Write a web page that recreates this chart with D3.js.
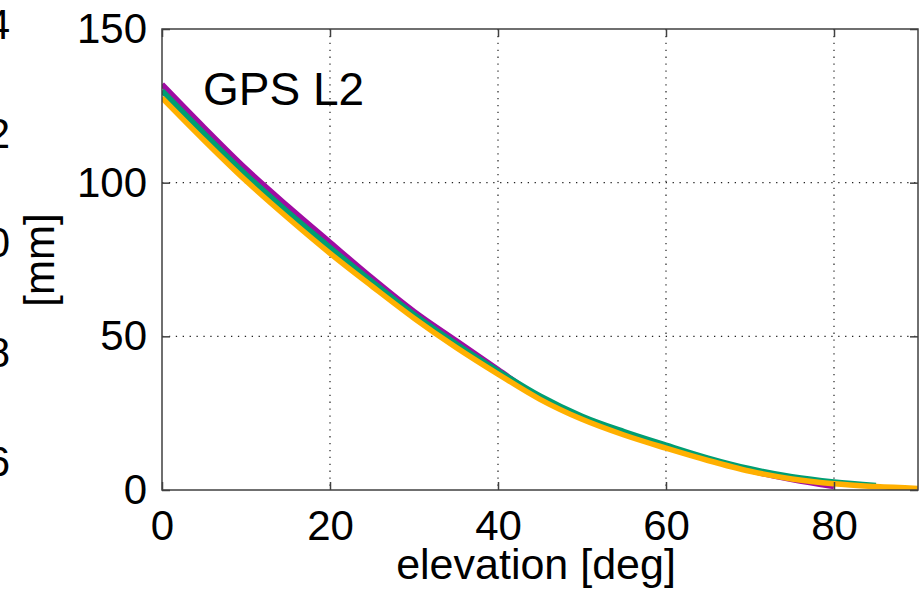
<!DOCTYPE html>
<html lang="en">
<head>
<meta charset="utf-8">
<title>GPS L2</title>
<script src="https://d3js.org/d3.v7.min.js"></script>
<style>
body { margin: 0; background: #fff; }
text { font-family: "Liberation Sans", Arial, sans-serif; fill: #000; }
</style>
</head>
<body>
<div id="container"></div>
<script>
// data
const elevation = [0, 5, 10, 15, 20, 25, 30, 35, 40, 45, 50, 55, 60, 65, 70, 75, 80, 85, 90];
const purple = [132.0, 118.0, 104.5, 92.3, 80.6, 69.0, 58.1, 48.6, 39.2, 29.9, 23.4, 18.3, 14.0, 9.9, 6.3, 3.4, 1.1, null, null];
const teal   = [129.9, 116.0, 102.6, 90.4, 78.9, 67.8, 57.1, 47.6, 38.8, 30.6, 24.0, 19.0, 14.6, 10.4, 6.9, 4.3, 2.6, 1.5, null];
const orange = [127.6, 113.8, 100.6, 88.5, 77.0, 66.3, 55.9, 46.4, 37.7, 29.5, 23.0, 17.9, 13.6, 9.6, 6.1, 3.6, 2.0, 1.1, 0.5];
const xTicks = [0, 20, 40, 60, 80];
const yTicks = [0, 50, 100, 150];
// labels of the neighbouring panel, cut off at the left edge
const sideLabels = ["14", "12", "10", "8", "6"];

const width = 922;
const height = 599;
const plot = {left: 162, right: 918, top: 29, bottom: 490};

const svg = d3.select("div#container").append("svg")
    .attr("width", width)
    .attr("height", height);

const xScale = d3.scaleLinear().domain([0, 90]).range([plot.left, plot.right]);
const yScale = d3.scaleLinear().domain([0, 150]).range([plot.bottom, plot.top]);

svg.append("clipPath").attr("id", "clip")
    .append("rect")
    .attr("x", plot.left).attr("y", plot.top)
    .attr("width", plot.right - plot.left)
    .attr("height", plot.bottom - plot.top);

// dotted grid
const grid = svg.append("g");
grid.selectAll("vgrid")
    .data(xTicks.slice(1))
    .enter().append("line")
    .attr("x1", d => xScale(d)).attr("x2", d => xScale(d))
    .attr("y1", plot.top).attr("y2", plot.bottom)
    .attr("stroke", "#222").attr("stroke-width", 1.2)
    .attr("stroke-dasharray", "1.3,5.6");
grid.selectAll("hgrid")
    .data(yTicks.slice(1, -1))
    .enter().append("line")
    .attr("y1", d => yScale(d)).attr("y2", d => yScale(d))
    .attr("x1", plot.left).attr("x2", plot.right)
    .attr("stroke", "#222").attr("stroke-width", 1.2)
    .attr("stroke-dasharray", "1.3,5.6");

// curves
const slices = [
    {id: "purple", color: "#9f0ca3", values: purple},
    {id: "teal", color: "#009e73", values: teal},
    {id: "orange", color: "#ffb000", values: orange}
];
const line = d3.line()
    .defined(d => d.v != null)
    .curve(d3.curveMonotoneX)
    .x(d => xScale(d.e))
    .y(d => yScale(d.v));

svg.append("g").attr("clip-path", "url(#clip)")
    .selectAll("path")
    .data(slices)
    .enter().append("path")
    .attr("fill", "none")
    .attr("stroke", d => d.color)
    .attr("stroke-width", 5.5)
    .attr("stroke-linejoin", "round")
    .attr("d", d => line(elevation.map((e, i) => ({e: e, v: d.values[i]}))));

// axes: inward ticks, mirrored
const tickLen = 8;
const xaxis = d3.axisBottom(xScale).tickValues(xTicks).tickSize(-tickLen).tickPadding(20).tickFormat(d3.format("d"));
const xaxisTop = d3.axisTop(xScale).tickValues(xTicks).tickSize(-tickLen).tickFormat("");
const yaxis = d3.axisLeft(yScale).tickValues(yTicks).tickSize(-tickLen).tickPadding(15).tickFormat(d3.format("d"));
const yaxisRight = d3.axisRight(yScale).tickValues(yTicks).tickSize(-tickLen).tickFormat("");

function style(g) {
    g.select(".domain").remove();
    g.selectAll(".tick line").attr("stroke", "#404040").attr("stroke-width", 1.5);
    g.selectAll(".tick text").attr("font-size", 42).attr("font-family", "Liberation Sans, Arial, sans-serif").attr("fill", "#000");
}
svg.append("g").attr("transform", "translate(0," + plot.bottom + ")").call(xaxis).call(style);
svg.append("g").attr("transform", "translate(0," + plot.top + ")").call(xaxisTop).call(style);
svg.append("g").attr("transform", "translate(" + plot.left + ",0)").call(yaxis).call(style);
svg.append("g").attr("transform", "translate(" + plot.right + ",0)").call(yaxisRight).call(style);

// border
svg.append("rect")
    .attr("x", plot.left).attr("y", plot.top)
    .attr("width", plot.right - plot.left)
    .attr("height", plot.bottom - plot.top)
    .attr("fill", "none")
    .attr("stroke", "#404040")
    .attr("stroke-width", 1.5);

svg.append("text")
    .attr("x", 203).attr("y", 105)
    .attr("font-size", 46)
    .text("GPS L2");

svg.append("text")
    .attr("x", (plot.left + plot.right) / 2 - 4).attr("y", 579)
    .attr("text-anchor", "middle")
    .attr("font-size", 43)
    .text("elevation [deg]");

svg.append("text")
    .attr("transform", "translate(54,260) rotate(-90)")
    .attr("text-anchor", "middle")
    .attr("font-size", 42)
    .text("[mm]");

svg.selectAll("side")
    .data(sideLabels)
    .enter().append("text")
    .attr("x", 10)
    .attr("y", (d, i) => 24 + i * 109.3)
    .attr("dy", "0.35em")
    .attr("text-anchor", "end")
    .attr("font-size", 42)
    .text(d => d);
</script>
</body>
</html>
